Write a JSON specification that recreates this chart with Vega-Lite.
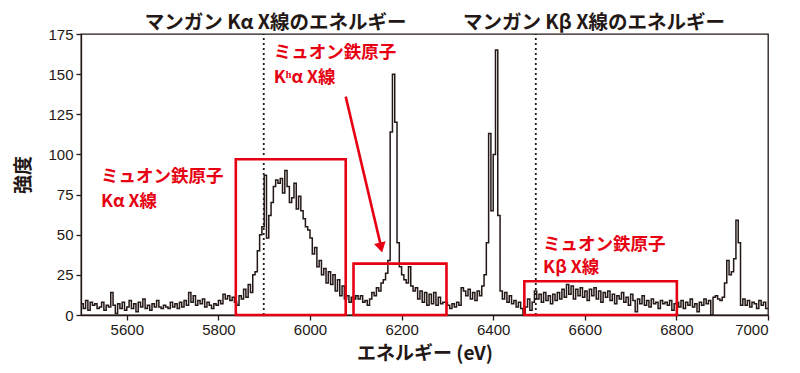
{
  "$schema": "https://vega.github.io/schema/vega-lite/v6.json",
  "width": 687,
  "height": 281,
  "autosize": {"type": "none"},
  "padding": {"left": 81, "top": 34, "right": 32, "bottom": 58},
  "background": "white",
  "config": {
    "view": {"stroke": "#231815", "strokeWidth": 1.3},
    "axis": {
      "grid": false,
      "domainColor": "#231815",
      "tickColor": "#231815",
      "labelColor": "#231815",
      "titleColor": "#231815",
      "labelFont": "Liberation Sans",
      "labelFontSize": 15,
      "titleFont": "Noto Sans CJK JP",
      "titleFontSize": 19,
      "titleFontWeight": "bold",
      "domainWidth": 1.3,
      "tickWidth": 1.3,
      "tickSize": 5
    }
  },
  "layer": [
    {
      "data": {"values": [{"e": 5899}, {"e": 6493}]},
      "mark": {"type": "rule", "color": "#231815", "strokeWidth": 1.8, "strokeDash": [2, 3]},
      "encoding": {
        "x": {"field": "e", "type": "quantitative", "title": "エネルギー (eV)",
              "scale": {"domain": [5500, 7000], "nice": false, "zero": false},
              "axis": {"values": [5600, 5800, 6000, 6200, 6400, 6600, 6800, 7000], "format": "d", "labelPadding": 2, "titlePadding": 7}},
        "y": {"datum": 0, "type": "quantitative", "title": "強度",
              "scale": {"domain": [0, 175], "nice": false},
              "axis": {"values": [0, 25, 50, 75, 100, 125, 150, 175], "labelPadding": 3, "titlePadding": 14}},
        "y2": {"datum": 175}
      }
    },
    {
      "data": {"values": [
        {"e":5500,"c":7},{"e":5505,"c":4},{"e":5510,"c":9},{"e":5515,"c":3},{"e":5520,"c":8},{"e":5525,"c":6},{"e":5530,"c":7},{"e":5535,"c":4},{"e":5540,"c":5},{"e":5545,"c":8},
        {"e":5550,"c":3},{"e":5555,"c":6},{"e":5560,"c":5},{"e":5565,"c":14},{"e":5570,"c":6},{"e":5575,"c":1},{"e":5580,"c":7},{"e":5585,"c":4},{"e":5590,"c":8},{"e":5595,"c":3},
        {"e":5600,"c":5},{"e":5605,"c":9},{"e":5610,"c":4},{"e":5615,"c":7},{"e":5620,"c":2},{"e":5625,"c":8},{"e":5630,"c":5},{"e":5635,"c":10},{"e":5640,"c":4},{"e":5645,"c":6},
        {"e":5650,"c":3},{"e":5655,"c":7},{"e":5660,"c":5},{"e":5665,"c":9},{"e":5670,"c":5},{"e":5675,"c":4},{"e":5680,"c":6},{"e":5685,"c":5},{"e":5690,"c":4},{"e":5695,"c":8},
        {"e":5700,"c":5},{"e":5705,"c":7},{"e":5710,"c":4},{"e":5715,"c":8},{"e":5720,"c":5},{"e":5725,"c":9},{"e":5730,"c":6},{"e":5735,"c":14},{"e":5740,"c":8},{"e":5745,"c":12},
        {"e":5750,"c":6},{"e":5755,"c":9},{"e":5760,"c":7},{"e":5765,"c":10},{"e":5770,"c":5},{"e":5775,"c":8},{"e":5780,"c":6},{"e":5785,"c":4},{"e":5790,"c":7},{"e":5795,"c":6},
        {"e":5800,"c":9},{"e":5805,"c":7},{"e":5810,"c":13},{"e":5815,"c":10},{"e":5820,"c":12},{"e":5825,"c":9},{"e":5830,"c":11},{"e":5835,"c":8},{"e":5840,"c":6},{"e":5845,"c":12},
        {"e":5850,"c":10},{"e":5855,"c":16},{"e":5860,"c":11},{"e":5865,"c":19},{"e":5870,"c":14},{"e":5875,"c":25},{"e":5880,"c":27},{"e":5885,"c":40},{"e":5890,"c":50},{"e":5895,"c":55},
        {"e":5900,"c":87},{"e":5905,"c":48},{"e":5910,"c":62},{"e":5915,"c":70},{"e":5920,"c":80},{"e":5925,"c":84},{"e":5930,"c":82},{"e":5935,"c":85},{"e":5940,"c":76},{"e":5945,"c":90},
        {"e":5950,"c":80},{"e":5955,"c":70},{"e":5960,"c":73},{"e":5965,"c":82},{"e":5970,"c":66},{"e":5975,"c":74},{"e":5980,"c":65},{"e":5985,"c":60},{"e":5990,"c":55},{"e":5995,"c":53},
        {"e":6000,"c":48},{"e":6005,"c":38},{"e":6010,"c":42},{"e":6015,"c":30},{"e":6020,"c":34},{"e":6025,"c":25},{"e":6030,"c":29},{"e":6035,"c":20},{"e":6040,"c":27},{"e":6045,"c":19},
        {"e":6050,"c":25},{"e":6055,"c":15},{"e":6060,"c":22},{"e":6065,"c":12},{"e":6070,"c":18},{"e":6075,"c":10},{"e":6080,"c":12},{"e":6085,"c":8},{"e":6090,"c":11},{"e":6095,"c":10},
        {"e":6100,"c":12},{"e":6105,"c":10},{"e":6110,"c":12},{"e":6115,"c":8},{"e":6120,"c":9},{"e":6125,"c":6},{"e":6130,"c":10},{"e":6135,"c":14},{"e":6140,"c":12},{"e":6145,"c":17},
        {"e":6150,"c":15},{"e":6155,"c":20},{"e":6160,"c":22},{"e":6165,"c":26},{"e":6170,"c":34},{"e":6175,"c":114},{"e":6180,"c":150},{"e":6185,"c":120},{"e":6190,"c":45},{"e":6195,"c":30},
        {"e":6200,"c":25},{"e":6205,"c":22},{"e":6210,"c":20},{"e":6215,"c":30},{"e":6220,"c":18},{"e":6225,"c":15},{"e":6230,"c":17},{"e":6235,"c":10},{"e":6240,"c":15},{"e":6245,"c":8},
        {"e":6250,"c":14},{"e":6255,"c":6},{"e":6260,"c":13},{"e":6265,"c":7},{"e":6270,"c":14},{"e":6275,"c":6},{"e":6280,"c":11},{"e":6285,"c":7},{"e":6290,"c":8},{"e":6295,"c":8},
        {"e":6300,"c":6},{"e":6305,"c":4},{"e":6310,"c":7},{"e":6315,"c":5},{"e":6320,"c":8},{"e":6325,"c":6},{"e":6330,"c":17},{"e":6335,"c":15},{"e":6340,"c":12},{"e":6345,"c":16},
        {"e":6350,"c":10},{"e":6355,"c":14},{"e":6360,"c":9},{"e":6365,"c":15},{"e":6370,"c":12},{"e":6375,"c":18},{"e":6380,"c":25},{"e":6385,"c":45},{"e":6390,"c":113},{"e":6395,"c":65},
        {"e":6400,"c":100},{"e":6405,"c":165},{"e":6410,"c":62},{"e":6415,"c":15},{"e":6420,"c":10},{"e":6425,"c":14},{"e":6430,"c":8},{"e":6435,"c":12},{"e":6440,"c":7},{"e":6445,"c":9},
        {"e":6450,"c":5},{"e":6455,"c":8},{"e":6460,"c":4},{"e":6465,"c":0},{"e":6470,"c":5},{"e":6475,"c":10},{"e":6480,"c":3},{"e":6485,"c":8},{"e":6490,"c":15},{"e":6495,"c":10},
        {"e":6500,"c":13},{"e":6505,"c":8},{"e":6510,"c":14},{"e":6515,"c":9},{"e":6520,"c":12},{"e":6525,"c":7},{"e":6530,"c":13},{"e":6535,"c":9},{"e":6540,"c":14},{"e":6545,"c":10},
        {"e":6550,"c":16},{"e":6555,"c":11},{"e":6560,"c":19},{"e":6565,"c":13},{"e":6570,"c":18},{"e":6575,"c":10},{"e":6580,"c":16},{"e":6585,"c":12},{"e":6590,"c":17},{"e":6595,"c":11},
        {"e":6600,"c":15},{"e":6605,"c":9},{"e":6610,"c":16},{"e":6615,"c":12},{"e":6620,"c":17},{"e":6625,"c":10},{"e":6630,"c":15},{"e":6635,"c":8},{"e":6640,"c":14},{"e":6645,"c":11},
        {"e":6650,"c":15},{"e":6655,"c":9},{"e":6660,"c":13},{"e":6665,"c":7},{"e":6670,"c":12},{"e":6675,"c":10},{"e":6680,"c":14},{"e":6685,"c":8},{"e":6690,"c":11},{"e":6695,"c":6},
        {"e":6700,"c":13},{"e":6705,"c":9},{"e":6710,"c":2},{"e":6715,"c":10},{"e":6720,"c":7},{"e":6725,"c":12},{"e":6730,"c":6},{"e":6735,"c":9},{"e":6740,"c":5},{"e":6745,"c":10},
        {"e":6750,"c":7},{"e":6755,"c":8},{"e":6760,"c":4},{"e":6765,"c":9},{"e":6770,"c":7},{"e":6775,"c":8},{"e":6780,"c":6},{"e":6785,"c":9},{"e":6790,"c":3},{"e":6795,"c":7},
        {"e":6800,"c":8},{"e":6805,"c":5},{"e":6810,"c":9},{"e":6815,"c":4},{"e":6820,"c":8},{"e":6825,"c":6},{"e":6830,"c":10},{"e":6835,"c":5},{"e":6840,"c":7},{"e":6845,"c":2},
        {"e":6850,"c":8},{"e":6855,"c":6},{"e":6860,"c":10},{"e":6865,"c":7},{"e":6870,"c":9},{"e":6875,"c":0},{"e":6880,"c":11},{"e":6885,"c":12},{"e":6890,"c":10},{"e":6895,"c":9},
        {"e":6900,"c":11},{"e":6905,"c":20},{"e":6910,"c":34},{"e":6915,"c":25},{"e":6920,"c":27},{"e":6925,"c":35},{"e":6930,"c":59},{"e":6935,"c":45},{"e":6940,"c":6},{"e":6945,"c":10},
        {"e":6950,"c":6},{"e":6955,"c":9},{"e":6960,"c":5},{"e":6965,"c":8},{"e":6970,"c":7},{"e":6975,"c":4},{"e":6980,"c":9},{"e":6985,"c":6},{"e":6990,"c":8},{"e":6995,"c":4},
        {"e":7000,"c":4}
      ]},
      "mark": {"type": "line", "interpolate": "step-after", "color": "#231815", "strokeWidth": 1.5},
      "encoding": {
        "x": {"field": "e", "type": "quantitative", "title": "エネルギー (eV)"},
        "y": {"field": "c", "type": "quantitative", "title": "強度"}
      }
    },
    {
      "data": {"values": [
        {"e1": 5838, "e2": 6078, "c1": 0, "c2": 97},
        {"e1": 6095, "e2": 6298, "c1": 0, "c2": 32},
        {"e1": 6468, "e2": 6801, "c1": 0, "c2": 21}
      ]},
      "mark": {"type": "rect", "fill": "transparent", "stroke": "#e60012", "strokeWidth": 2.6},
      "encoding": {
        "x": {"field": "e1", "type": "quantitative", "title": "エネルギー (eV)"},
        "x2": {"field": "e2"},
        "y": {"field": "c1", "type": "quantitative", "title": "強度"},
        "y2": {"field": "c2"}
      }
    },
    {
      "data": {"values": [{"e1": 6078, "c1": 136, "e2": 6154, "c2": 44}]},
      "mark": {"type": "rule", "color": "#e60012", "strokeWidth": 2.6},
      "encoding": {
        "x": {"field": "e1", "type": "quantitative", "title": "エネルギー (eV)"},
        "x2": {"field": "e2"},
        "y": {"field": "c1", "type": "quantitative", "title": "強度"},
        "y2": {"field": "c2"}
      }
    },
    {
      "data": {"values": [{"e": 6155, "c": 42}]},
      "mark": {"type": "point", "shape": "triangle-down", "filled": true, "color": "#e60012", "opacity": 1, "size": 140, "angle": 347},
      "encoding": {
        "x": {"field": "e", "type": "quantitative", "title": "エネルギー (eV)"},
        "y": {"field": "c", "type": "quantitative", "title": "強度"}
      }
    },
    {
      "data": {"values": [
        {"e": 5925, "c": 181.8, "t": "マンガン Kα X線のエネルギー"},
        {"e": 6620, "c": 181.8, "t": "マンガン Kβ X線のエネルギー"}
      ]},
      "mark": {"type": "text", "font": "Noto Sans CJK JP", "fontWeight": "bold", "fontSize": 19.5, "color": "#231815", "align": "center", "baseline": "middle"},
      "encoding": {
        "x": {"field": "e", "type": "quantitative", "title": "エネルギー (eV)"},
        "y": {"field": "c", "type": "quantitative", "title": "強度"},
        "text": {"field": "t"}
      }
    },
    {
      "data": {"values": [
        {"e": 5921, "c": 163, "t": "ミュオン鉄原子"},
        {"e": 5921, "c": 147.6, "t": "Kʰα X線"},
        {"e": 5543.6, "c": 86, "t": "ミュオン鉄原子"},
        {"e": 5543.6, "c": 70.4, "t": "Kα X線"},
        {"e": 6509, "c": 43.6, "t": "ミュオン鉄原子"},
        {"e": 6509, "c": 29.3, "t": "Kβ X線"}
      ]},
      "mark": {"type": "text", "font": "Noto Sans CJK JP", "fontWeight": "bold", "fontSize": 17.5, "color": "#e60012", "align": "left", "baseline": "middle"},
      "encoding": {
        "x": {"field": "e", "type": "quantitative", "title": "エネルギー (eV)"},
        "y": {"field": "c", "type": "quantitative", "title": "強度"},
        "text": {"field": "t"}
      }
    }
  ]
}
